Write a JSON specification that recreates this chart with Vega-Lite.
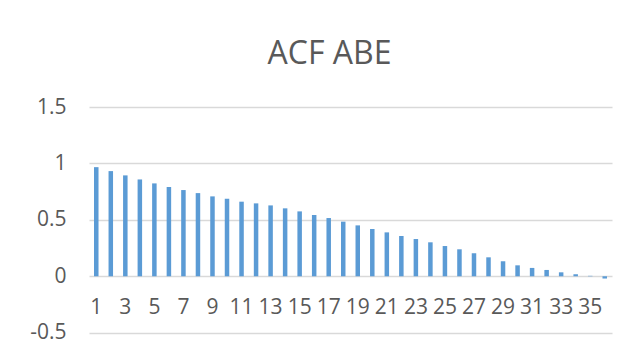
{
  "$schema": "https://vega.github.io/schema/vega-lite/v6.json",
  "autosize": {"type": "none"},
  "width": 523,
  "height": 225.7,
  "padding": {"left": 89, "top": 107, "right": 19, "bottom": 25.3},
  "background": "white",
  "title": {
    "text": "ACF ABE",
    "font": "Open Sans",
    "fontSize": 32,
    "fontWeight": "normal",
    "color": "#595959",
    "anchor": "middle",
    "frame": "group",
    "dx": -21,
    "baseline": "alphabetic",
    "offset": 0
  },
  "config": {
    "view": {"stroke": null},
    "axis": {"labelFont": "Open Sans", "labelFontSize": 21, "labelColor": "#595959"}
  },
  "data": {
    "values": [
      {"lag": 1, "acf": 0.967}, {"lag": 2, "acf": 0.932}, {"lag": 3, "acf": 0.894},
      {"lag": 4, "acf": 0.858}, {"lag": 5, "acf": 0.823}, {"lag": 6, "acf": 0.791},
      {"lag": 7, "acf": 0.764}, {"lag": 8, "acf": 0.737}, {"lag": 9, "acf": 0.708},
      {"lag": 10, "acf": 0.687}, {"lag": 11, "acf": 0.661}, {"lag": 12, "acf": 0.646},
      {"lag": 13, "acf": 0.628}, {"lag": 14, "acf": 0.602}, {"lag": 15, "acf": 0.575},
      {"lag": 16, "acf": 0.543}, {"lag": 17, "acf": 0.516}, {"lag": 18, "acf": 0.484},
      {"lag": 19, "acf": 0.451}, {"lag": 20, "acf": 0.419}, {"lag": 21, "acf": 0.389},
      {"lag": 22, "acf": 0.357}, {"lag": 23, "acf": 0.330}, {"lag": 24, "acf": 0.301},
      {"lag": 25, "acf": 0.268}, {"lag": 26, "acf": 0.239}, {"lag": 27, "acf": 0.204},
      {"lag": 28, "acf": 0.168}, {"lag": 29, "acf": 0.133}, {"lag": 30, "acf": 0.097},
      {"lag": 31, "acf": 0.074}, {"lag": 32, "acf": 0.056}, {"lag": 33, "acf": 0.035},
      {"lag": 34, "acf": 0.018}, {"lag": 35, "acf": 0.004}, {"lag": 36, "acf": -0.02}
    ]
  },
  "mark": {"type": "bar", "color": "#5b9bd5"},
  "encoding": {
    "x": {
      "field": "lag",
      "type": "ordinal",
      "scale": {"paddingInner": 0.69, "paddingOuter": 0.345},
      "axis": {
        "title": null,
        "orient": "bottom",
        "offset": -56.4,
        "domain": false,
        "ticks": false,
        "grid": false,
        "labelAngle": 0,
        "labelPadding": 20,
        "values": [1, 3, 5, 7, 9, 11, 13, 15, 17, 19, 21, 23, 25, 27, 29, 31, 33, 35]
      }
    },
    "y": {
      "field": "acf",
      "type": "quantitative",
      "scale": {"domain": [-0.5, 1.5], "nice": false, "zero": false},
      "axis": {
        "title": null,
        "values": [-0.5, 0, 0.5, 1, 1.5],
        "domain": false,
        "ticks": false,
        "grid": true,
        "gridColor": "#d9d9d9",
        "gridWidth": 1.3,
        "labelPadding": 23,
        "labelExpr": "toString(datum.value)"
      }
    }
  }
}
